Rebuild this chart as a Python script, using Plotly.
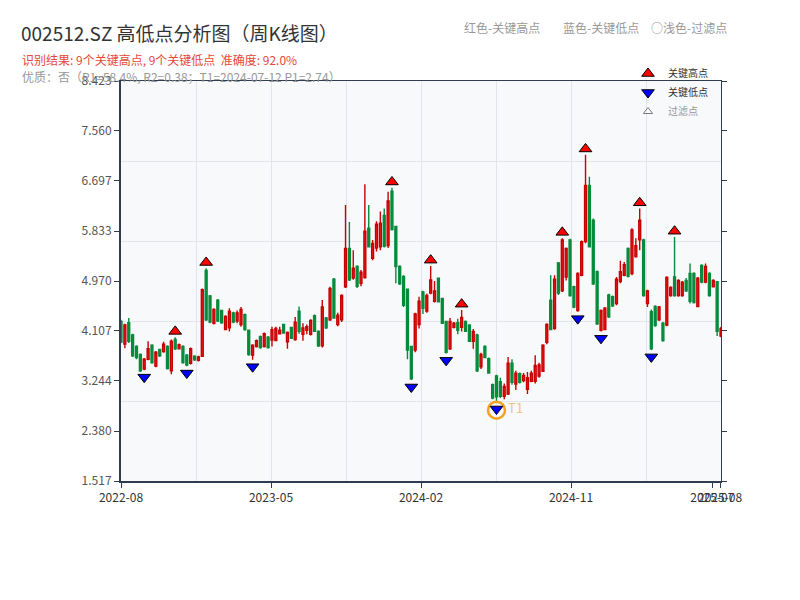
import pandas as pd
import plotly.graph_objects as go

# ---------------- data (weekly K-line) ----------------
OPEN = [4.27, 3.88, 4.25, 4.04, 3.84, 3.70, 3.45, 3.62, 3.86, 3.50,
        3.79, 3.75, 3.84, 3.42, 3.96, 3.80, 3.84, 3.69, 3.55, 3.67,
        3.60, 3.67, 5.15, 4.71, 4.24, 4.64, 4.46, 4.13, 4.16, 4.42,
        4.28, 4.22, 4.39, 4.12, 3.69, 3.84, 4.01, 3.84, 4.00, 3.95,
        3.94, 4.06, 4.22, 3.92, 4.17, 3.96, 4.45, 4.05, 4.12, 4.05,
        4.37, 4.10, 3.85, 4.33, 4.30, 5.00, 4.22, 4.30, 4.87, 5.53,
        5.02, 5.22, 4.93, 5.03, 5.88, 5.36, 5.54, 5.56, 6.10, 5.58,
        6.52, 5.91, 5.22, 5.05, 4.83, 3.84, 3.78, 4.22, 4.78, 4.45,
        4.76, 4.62, 5.02, 4.67, 4.27, 3.80, 4.17, 4.25, 4.17, 4.27,
        4.21, 3.93, 4.04, 3.49, 3.84, 3.63, 3.18, 3.33, 3.23, 2.98,
        3.02, 3.55, 3.19, 3.37, 3.25, 3.10, 3.24, 3.24, 3.33, 3.41,
        3.91, 4.64, 4.15, 5.28, 4.80, 5.04, 5.68, 4.87, 4.46, 5.07,
        5.65, 6.62, 6.02, 5.13, 4.12, 4.13, 4.73, 4.70, 4.58, 4.96,
        5.07, 5.53, 5.10, 5.39, 5.68, 5.68, 4.58, 4.44, 4.53, 4.30,
        4.24, 4.21, 4.72, 5.04, 4.72, 4.72, 4.98, 5.10, 5.10, 4.53,
        5.24, 4.95, 5.10, 4.87, 4.96, 4.02]
HIGH = [4.30, 4.23, 4.33, 4.06, 3.86, 3.72, 3.64, 3.93, 3.88, 3.76,
        3.80, 3.92, 3.86, 3.96, 4.00, 3.89, 3.86, 3.71, 3.82, 3.69,
        3.68, 4.84, 5.19, 4.73, 4.50, 4.66, 4.47, 4.38, 4.50, 4.44,
        4.46, 4.52, 4.41, 4.13, 3.88, 3.96, 4.03, 4.08, 4.02, 4.18,
        4.18, 4.18, 4.23, 4.10, 4.18, 4.35, 4.53, 4.24, 4.22, 4.31,
        4.39, 4.12, 4.64, 4.35, 4.87, 5.02, 4.42, 4.74, 6.28, 5.99,
        5.50, 5.24, 5.16, 6.64, 6.28, 5.68, 6.00, 6.17, 6.22, 6.51,
        6.58, 5.92, 5.24, 5.07, 4.84, 3.85, 4.42, 4.70, 4.80, 4.75,
        5.23, 4.97, 5.03, 4.68, 4.28, 4.33, 4.26, 4.32, 4.47, 4.29,
        4.22, 4.14, 4.06, 3.73, 3.86, 3.65, 3.20, 3.35, 3.30, 3.20,
        3.66, 3.62, 3.42, 3.39, 3.38, 3.40, 3.42, 3.69, 3.56, 3.88,
        4.24, 5.07, 5.07, 5.30, 5.71, 5.55, 5.70, 4.89, 5.12, 5.67,
        7.15, 6.77, 6.05, 5.15, 4.48, 4.52, 4.75, 4.72, 5.04, 5.32,
        5.30, 5.55, 5.88, 5.71, 6.22, 5.70, 4.82, 4.48, 4.55, 4.54,
        4.26, 5.05, 4.88, 5.73, 5.00, 4.97, 5.02, 5.27, 5.12, 5.04,
        5.26, 5.27, 5.12, 5.00, 4.97, 4.18]
LOW = [3.90, 3.81, 3.90, 3.66, 3.62, 3.40, 3.43, 3.60, 3.54, 3.48,
       3.66, 3.73, 3.44, 3.36, 3.78, 3.79, 3.54, 3.50, 3.53, 3.59,
       3.58, 3.66, 4.28, 4.24, 4.22, 4.26, 4.23, 4.12, 4.10, 4.24,
       4.24, 4.18, 4.11, 3.68, 3.61, 3.82, 3.80, 3.82, 3.80, 3.84,
       3.93, 4.05, 4.06, 3.80, 3.97, 3.94, 4.06, 3.94, 4.05, 4.03,
       4.09, 3.83, 3.82, 4.14, 4.28, 4.32, 4.19, 4.26, 4.85, 4.97,
       4.99, 4.85, 4.88, 5.01, 5.55, 5.33, 5.48, 5.50, 5.55, 5.54,
       5.84, 4.93, 4.90, 4.52, 3.62, 3.26, 3.74, 4.15, 4.40, 4.42,
       4.74, 4.60, 4.60, 4.23, 3.72, 3.78, 4.15, 4.05, 4.10, 4.09,
       3.92, 3.80, 3.40, 3.45, 3.64, 3.37, 2.93, 2.88, 2.95, 2.93,
       3.00, 3.18, 3.09, 3.20, 3.22, 3.02, 3.22, 3.20, 3.30, 3.40,
       3.88, 4.12, 4.13, 4.73, 4.78, 4.98, 4.70, 4.50, 4.44, 5.05,
       5.62, 5.55, 4.90, 4.21, 4.10, 4.12, 4.33, 4.52, 4.55, 4.93,
       5.05, 5.03, 5.07, 5.37, 5.50, 4.70, 4.52, 3.78, 4.18, 4.28,
       3.92, 4.19, 4.70, 4.70, 4.70, 4.70, 4.78, 4.58, 4.58, 4.52,
       4.93, 4.93, 4.70, 4.86, 4.02, 4.00]
CLOSE = [3.92, 4.21, 3.93, 3.68, 3.65, 3.42, 3.62, 3.80, 3.56, 3.74,
         3.68, 3.88, 3.46, 3.93, 3.80, 3.87, 3.56, 3.52, 3.80, 3.61,
         3.66, 4.82, 4.30, 4.26, 4.48, 4.28, 4.25, 4.36, 4.45, 4.26,
         4.42, 4.48, 4.13, 3.70, 3.86, 3.94, 3.82, 4.06, 3.82, 4.13,
         4.15, 4.12, 4.07, 4.08, 3.98, 4.26, 4.10, 4.16, 4.18, 4.29,
         4.10, 3.85, 4.52, 4.16, 4.84, 4.33, 4.38, 4.72, 5.53, 4.99,
         5.19, 4.88, 5.12, 5.83, 5.56, 5.62, 5.95, 5.97, 5.57, 6.35,
         5.86, 5.22, 4.92, 4.55, 3.78, 3.28, 4.40, 4.62, 4.50, 4.72,
         4.99, 4.80, 4.61, 4.24, 3.74, 4.27, 4.24, 4.12, 4.34, 4.10,
         3.93, 4.10, 3.42, 3.70, 3.65, 3.38, 2.95, 2.97, 2.98, 3.15,
         3.55, 3.22, 3.38, 3.22, 3.34, 3.30, 3.38, 3.51, 3.52, 3.86,
         4.22, 4.13, 5.00, 4.76, 5.68, 5.53, 4.72, 4.52, 5.10, 5.65,
         6.62, 5.56, 4.92, 4.23, 4.46, 4.50, 4.35, 4.54, 5.00, 5.13,
         5.25, 5.05, 5.85, 5.58, 6.02, 4.72, 4.80, 3.80, 4.20, 4.52,
         3.94, 5.03, 4.86, 4.72, 4.98, 4.95, 4.80, 4.62, 4.60, 5.02,
         4.95, 5.22, 4.72, 4.98, 4.10, 4.15]

HIGH_IDX = [14, 22, 70, 80, 88, 114, 120, 134, 143]   # key highs
LOW_IDX = [6, 17, 34, 75, 84, 97, 118, 124, 137]      # key lows
T1_DATE = "2024-07-12"
P1 = 2.74

# trading weeks (weeks fully closed for holidays are absent)
HOLIDAY_WEEKS = ["2022-10-07", "2023-01-27", "2023-10-06", "2024-02-16"]
N = len(OPEN)
_fridays = pd.date_range("2022-08-05", periods=N + 12, freq="W-FRI").strftime("%Y-%m-%d")
DATES = [d for d in _fridays if d not in HOLIDAY_WEEKS][:N]

Y_TICKS = [1.517, 2.380, 3.244, 4.107, 4.970, 5.833, 6.697, 7.560, 8.423]
X_TICK_POS = [0, 38.75, 77.5, 116.25, 152.75, 154.75]
X_TICK_TEXT = ["2022-08", "2023-05", "2024-02", "2024-11", "2025-07", "2025-08"]

# ---------------- style ----------------
FONT = "Noto Sans CJK SC, Noto Sans, sans-serif"
AXIS = "#2e3d4f"
GRID = "#e2e6ec"
BG = "#f7f9fb"
RED_LINE = "#c80000"
RED_FILL = "#ee2222"
GREEN = "#078b3b"
HIGH_OFF = 0.10
LOW_OFF = 0.12

PAGE = 8                      # browser body margin
W, H = 800 - 2 * PAGE, 600 - 2 * PAGE
L, T = 121 - PAGE, 81 - PAGE  # plot area left/top in figure px
PW, PH = 600, 400
R, B = W - L - PW, H - T - PH


def px(x):  # reference page px -> paper x
    return (x - PAGE - L) / PW


def py(y):  # reference page px -> paper y
    return (T + PH - (y - PAGE)) / PH


X = list(range(N))
yr = [Y_TICKS[0], Y_TICKS[-1]]
xr = [0, N - 1]
grid_vals = [yr[0] + k * (yr[1] - yr[0]) / 5 for k in range(1, 5)]
t1_idx = DATES.index(T1_DATE)

fig = go.Figure()

fig.add_trace(go.Candlestick(
    x=X, open=OPEN, high=HIGH, low=LOW, close=CLOSE,
    increasing=dict(line=dict(color=RED_LINE, width=1.4), fillcolor=RED_FILL),
    decreasing=dict(line=dict(color=GREEN, width=1.4), fillcolor=GREEN),
    whiskerwidth=0, showlegend=False, hovertext=DATES, name="周K"))

fig.add_trace(go.Scatter(
    x=[t1_idx], y=[P1], mode="markers+text", text=["T1"],
    textposition="middle right",
    textfont=dict(color="#f6c27c", size=13, family=FONT),
    marker=dict(symbol="circle-open", size=17, color="#f4a11e", line=dict(width=2.5, color="#f4a11e")),
    showlegend=False, hoverinfo="skip"))

fig.add_trace(go.Scatter(
    x=HIGH_IDX, y=[HIGH[i] + HIGH_OFF for i in HIGH_IDX], mode="markers",
    marker=dict(symbol="triangle-up", size=11, color="#ff0000", line=dict(color="#000", width=1)),
    name="关键高点"))

fig.add_trace(go.Scatter(
    x=LOW_IDX, y=[LOW[i] - LOW_OFF for i in LOW_IDX], mode="markers",
    marker=dict(symbol="triangle-down", size=11, color="#0000ff", line=dict(color="#000", width=1)),
    name="关键低点"))

fig.add_trace(go.Scatter(
    x=[None], y=[None], mode="markers",
    marker=dict(symbol="triangle-up", size=8, color="#ffffff", line=dict(color="#000", width=1)),
    name="过滤点", visible="legendonly"))

# helper traces for frame / grid axes
fig.add_trace(go.Scatter(x=[None], y=[None], xaxis="x2", yaxis="y2", showlegend=False, hoverinfo="skip"))
fig.add_trace(go.Scatter(x=[None], y=[None], xaxis="x", yaxis="y3", showlegend=False, hoverinfo="skip"))

fig.update_layout(
    width=W, height=H,
    margin=dict(l=L, r=R, t=T, b=B, autoexpand=False),
    paper_bgcolor="white", plot_bgcolor=BG,
    font=dict(family=FONT, size=11, color="#333"),
    xaxis=dict(range=xr, showgrid=False, zeroline=False, showline=True, linecolor=AXIS, linewidth=2,
               ticks="outside", ticklen=5, tickcolor=AXIS, tickvals=X_TICK_POS, ticktext=X_TICK_TEXT,
               tickangle=0, tickfont=dict(size=12, color="#333"), rangeslider=dict(visible=False),
               fixedrange=True),
    xaxis2=dict(range=xr, overlaying="x", side="top", anchor="y", showline=True, linecolor=AXIS, linewidth=1,
                ticks="", showticklabels=False, showgrid=True, gridcolor=GRID, gridwidth=1,
                tickmode="linear", tick0=0, dtick=(N - 1) / 8, zeroline=False, fixedrange=True),
    yaxis=dict(range=yr, showgrid=False, zeroline=False, showline=True, linecolor=AXIS, linewidth=2,
               ticks="outside", ticklen=5, tickcolor=AXIS, tickvals=Y_TICKS,
               ticktext=[f"{v:.3f}" for v in Y_TICKS], tickfont=dict(size=12, color="#555"), fixedrange=True),
    yaxis2=dict(range=yr, overlaying="y", side="right", anchor="x", showline=True, linecolor=AXIS, linewidth=1,
                ticks="outside", ticklen=5, tickcolor=AXIS, tickvals=Y_TICKS, showticklabels=False,
                showgrid=False, zeroline=False, fixedrange=True),
    yaxis3=dict(range=yr, overlaying="y", tickvals=grid_vals, showgrid=True, gridcolor=GRID, gridwidth=1,
                showticklabels=False, ticks="", showline=False, zeroline=False, fixedrange=True),
    legend=dict(x=px(628), y=py(59), xanchor="left", yanchor="top", bgcolor="rgba(0,0,0,0)",
                font=dict(size=10, color="#333", family=FONT), itemwidth=30, tracegroupgap=0),
    showlegend=True,
)

notes = [
    dict(text="002512.SZ 高低点分析图（周K线图）", x=19, y=33, size=19, color="#333"),
    dict(text="识别结果: 9个关键高点, 9个关键低点  准确度: 92.0%", x=20, y=59, size=12, color="#e8483a"),
    dict(text="优质：否（R1=58.4%, R2=0.38；T1=2024-07-12 P1=2.74）", x=20, y=76, size=12, color="#999"),
    dict(text="红色-关键高点", x=462, y=28, size=12, color="#999"),
    dict(text="蓝色-关键低点", x=561, y=28, size=12, color="#999"),
    dict(text="○浅色-过滤点", x=649, y=28, size=12, color="#999"),
]
for n in notes:
    fig.add_annotation(text=n["text"], xref="paper", yref="paper", x=px(n["x"]), y=py(n["y"]),
                       xanchor="left", yanchor="middle", showarrow=False,
                       font=dict(size=n["size"], color=n["color"], family=FONT))

fig.write_html("out.html")
